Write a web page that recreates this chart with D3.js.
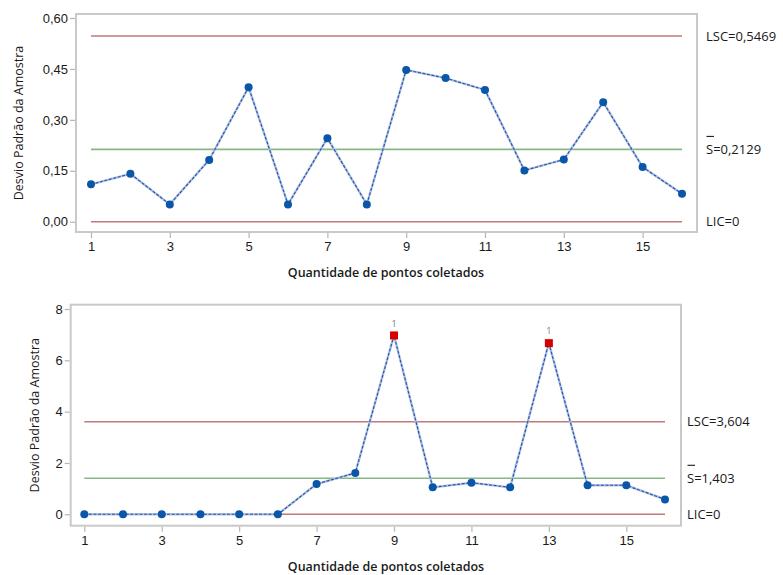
<!DOCTYPE html>
<html><head><meta charset="utf-8">
<script src="https://cdn.jsdelivr.net/npm/d3@7"></script>
<style>
html,body{margin:0;padding:0;background:#fff;}
svg{display:block;font-family:"Open Sans",sans-serif;}
</style></head>
<body><svg id="c" width="783" height="575"></svg>
<script>
// ---- data ----
const samples = d3.range(1, 17);
const xTicks = [1, 3, 5, 7, 9, 11, 13, 15];

const sdTop = [0.110, 0.141, 0.051, 0.182, 0.396, 0.051, 0.246, 0.051, 0.447, 0.423, 0.388, 0.151, 0.183, 0.352, 0.161, 0.082];
const yTicksTop = [0, 0.15, 0.30, 0.45, 0.60];
const limitsTop = {lsc: 0.5469, center: 0.2129, lic: 0};
const labelsTop = ["LSC=0,5469", "S=0,2129", "LIC=0"];

const sdBottom = [0, 0, 0, 0, 0, 0, 1.18, 1.61, 6.97, 1.05, 1.23, 1.05, 6.67, 1.13, 1.13, 0.58];
const yTicksBottom = [0, 2, 4, 6, 8];
const limitsBottom = {lsc: 3.604, center: 1.403, lic: 0};
const labelsBottom = ["LSC=3,604", "S=1,403", "LIC=0"];
const outOfControl = [9, 13];

const yTitle = "Desvio Padrão da Amostra";
const xTitle = "Quantidade de pontos coletados";

const svg = d3.select("#c");
const fmtComma = d => d.toFixed(2).replace(".", ",");
const fmtInt = d => String(d);

function drawChart(o) {
  const g = svg.append("g");
  const x = d3.scaleLinear().domain([1, 16]).range([o.x1, o.x16]);
  const y = d3.scaleLinear().domain(o.yDomain).range([o.y0, o.yTop]);

  // frame
  g.append("rect").attr("x", o.fx0).attr("y", o.fy0)
    .attr("width", o.fx1 - o.fx0).attr("height", o.fy1 - o.fy0)
    .attr("fill", "none").attr("stroke", "#c9c9c9").attr("stroke-width", 2);

  // y axis
  const ya = g.append("g").attr("transform", `translate(${o.fx0 - 1},0)`)
    .call(d3.axisLeft(y).tickValues(o.yTicks).tickFormat(o.fmt).tickSize(5).tickSizeOuter(0));
  ya.select(".domain").remove();
  ya.selectAll("line").attr("stroke", "#b5b5b5").attr("stroke-width", 1.2);
  ya.selectAll("text").attr("fill", "#1a1a1a").style("font-size", "13px").attr("x", -7);

  // x axis
  const xa = g.append("g").attr("transform", `translate(0,${o.fy1 + 1})`)
    .call(d3.axisBottom(x).tickValues(xTicks).tickFormat(fmtInt).tickSize(5).tickSizeOuter(0));
  xa.select(".domain").remove();
  xa.selectAll("line").attr("stroke", "#b5b5b5").attr("stroke-width", 1.2);
  xa.selectAll("text").attr("fill", "#1a1a1a").style("font-size", "13px").attr("y", 9);

  // titles
  g.append("text").attr("transform", `translate(${o.ytx},${(o.fy0 + o.fy1) / 2}) rotate(-90)`)
    .attr("text-anchor", "middle").attr("dy", "0.35em")
    .style("font-size", "12.5px").attr("fill", "#1a1a1a").text(yTitle);
  g.append("text").attr("x", o.xtx).attr("y", o.xty).attr("text-anchor", "middle")
    .attr("dy", "0.35em").style("font-size", "12.5px").style("font-weight", 600)
    .attr("fill", "#1a1a1a").text(xTitle);

  // limit lines
  const lims = [
    {v: o.limits.lsc, c: "#c07a78"},
    {v: o.limits.center, c: "#86b886"},
    {v: o.limits.lic, c: "#c07a78"}
  ];
  g.selectAll(".lim").data(lims).join("line")
    .attr("x1", x(1)).attr("x2", x(16))
    .attr("y1", d => y(d.v)).attr("y2", d => y(d.v))
    .attr("stroke", d => d.c).attr("stroke-width", 1.6);

  // limit labels
  g.selectAll(".ll").data(lims).join("text")
    .attr("x", o.lx).attr("y", d => y(d.v)).attr("dy", "0.35em")
    .style("font-size", "13px").attr("fill", "#1a1a1a")
    .text((d, i) => o.labels[i]);
  // bar over S
  g.append("line").attr("x1", o.lx + 0.5).attr("x2", o.lx + 8)
    .attr("y1", y(o.limits.center) - 13).attr("y2", y(o.limits.center) - 13)
    .attr("stroke", "#1a1a1a").attr("stroke-width", 1.1);

  // series line
  const pts = samples.map((s, i) => ({s, v: o.values[i]}));
  const line = d3.line().x(d => x(d.s)).y(d => y(d.v));
  g.append("path").datum(pts).attr("d", line).attr("fill", "none")
    .attr("stroke", "#b3c2e3").attr("stroke-width", 2.4);
  g.append("path").datum(pts).attr("d", line).attr("fill", "none")
    .attr("stroke", "#1f55a8").attr("stroke-width", 1.1).attr("stroke-dasharray", "3,1.6");

  // markers
  const normal = pts.filter(d => !o.flagged.includes(d.s));
  const flagged = pts.filter(d => o.flagged.includes(d.s));
  g.selectAll(".pt").data(normal).join("circle")
    .attr("cx", d => x(d.s)).attr("cy", d => y(d.v)).attr("r", 4)
    .attr("fill", "#0a56a9");
  g.selectAll(".fp").data(flagged).join("rect")
    .attr("x", d => x(d.s) - 4).attr("y", d => y(d.v) - 4)
    .attr("width", 8).attr("height", 8).attr("fill", "#d60000");
  g.selectAll(".fl").data(flagged).join("text")
    .attr("x", d => x(d.s)).attr("y", d => y(d.v) - 12).attr("dy", "0.35em")
    .attr("text-anchor", "middle").style("font-size", "9px").attr("fill", "#777")
    .text("1");
}

drawChart({
  values: sdTop, yDomain: [0, 0.6], yTicks: yTicksTop, fmt: fmtComma,
  limits: limitsTop, labels: labelsTop, flagged: [],
  x1: 91, x16: 682, y0: 221.7, yTop: 18,
  fx0: 76, fx1: 697, fy0: 14, fy1: 232,
  ytx: 19, xtx: 386, xty: 273, lx: 706
});
drawChart({
  values: sdBottom, yDomain: [0, 8], yTicks: yTicksBottom, fmt: fmtInt,
  limits: limitsBottom, labels: labelsBottom, flagged: outOfControl,
  x1: 84.3, x16: 665, y0: 514.3, yTop: 309,
  fx0: 70.7, fx1: 681, fy0: 304.7, fy1: 525.7,
  ytx: 35, xtx: 386, xty: 566.5, lx: 687
});
</script></body></html>
